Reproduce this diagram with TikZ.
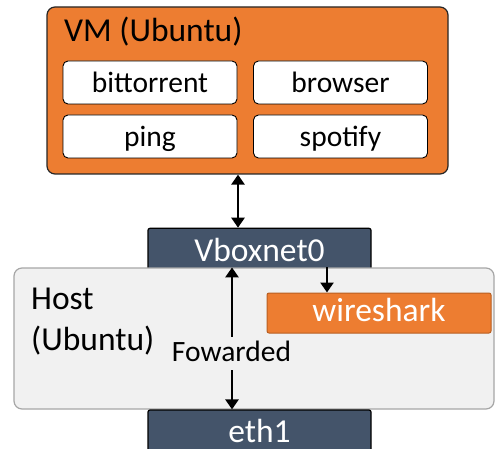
\documentclass[tikz,border=0pt]{standalone}
\usepackage{fontspec}
\setmainfont{Carlito}
\usetikzlibrary{arrows.meta}
\definecolor{vmorange}{HTML}{ED7D31}
\definecolor{wsborder}{HTML}{B85F22}
\definecolor{slate}{HTML}{44546A}
\definecolor{hostfill}{HTML}{F1F1F1}
\definecolor{hostborder}{HTML}{A6A6A6}
\tikzset{
  appbox/.style={draw=black, line width=0.9pt, fill=white, rounded corners=5pt,
    minimum width=174pt, minimum height=43pt, inner sep=0pt,
    font=\fontsize{29.5}{31}\selectfont, text height=28pt, text depth=7pt},
  netbox/.style={draw=black, line width=1.2pt, fill=slate, rounded corners=2pt,
    minimum width=223pt, inner sep=0pt, text=white,
    font=\fontsize{33.5}{36}\selectfont},
  tip/.style={line width=2.6pt, -{Triangle[width=13pt,length=10pt]}},
  dbl/.style={line width=2.6pt, {Triangle[width=13pt,length=10pt]}-{Triangle[width=13pt,length=10pt]}},
}
\begin{document}
\begin{tikzpicture}[x=1pt,y=-1pt]
\useasboundingbox (0,0) rectangle (495,449);
% VM box
\node[draw=black!85, line width=1.2pt, fill=vmorange, rounded corners=8pt,
  minimum width=401pt, minimum height=167pt, inner sep=0pt] (vm) at (247.5,90.5) {};
\node[anchor=base west, inner sep=0pt, font=\fontsize{33.5}{36}\selectfont] (vmtitle) at (64,42) {VM (Ubuntu)};
\node[appbox] (bt) at (150,82.5) {bittorrent};
\node[appbox] (br) at (340.5,82.5) {browser};
\node[appbox] (pg) at (150,136.5) {ping};
\node[appbox] (sp) at (340.5,136.5) {spotify};
% Vboxnet0
\node[netbox, minimum height=38pt, text height=33.4pt, text depth=8pt] (vbox) at (259.5,249) {Vboxnet0};
% Host
\node[draw=hostborder, line width=1.2pt, fill=hostfill, rounded corners=8pt,
  minimum width=480pt, minimum height=141pt, inner sep=0pt] (host) at (254,338.5) {};
\node[anchor=base west, inner sep=0pt, align=left, font=\fontsize{33.5}{41}\selectfont] (hosttxt) at (31,350) {Host\\(Ubuntu)};
% eth1
\node[netbox, minimum height=41pt, text height=31pt, text depth=8pt] (eth) at (259.5,430.5) {eth1};
% wireshark
\node[draw=wsborder, line width=1pt, fill=vmorange, rounded corners=2pt,
  minimum width=224pt, minimum height=40pt, inner sep=0pt, text=white,
  font=\fontsize{33.5}{36}\selectfont, text height=25.4pt, text depth=8pt] (ws) at (379,313) {wireshark};
% Fowarded label
\node[inner sep=0pt, font=\fontsize{29.5}{31}\selectfont, minimum height=33pt, text height=22pt, text depth=7pt] (fw) at (231.5,353.5) {Fowarded};
% connectors
\coordinate (c1) at (238,0);
\coordinate (c2) at (232,0);
\coordinate (c3) at (327,0);
\draw[dbl] (vm.south -| c1) -- (vbox.north -| c1);
\draw[tip] (fw.north -| c2) -- (host.north -| c2);
\draw[tip] (fw.south -| c2) -- (eth.north -| c2);
\draw[tip] (host.north -| c3) -- (ws.north -| c3);
\end{tikzpicture}
\end{document}
